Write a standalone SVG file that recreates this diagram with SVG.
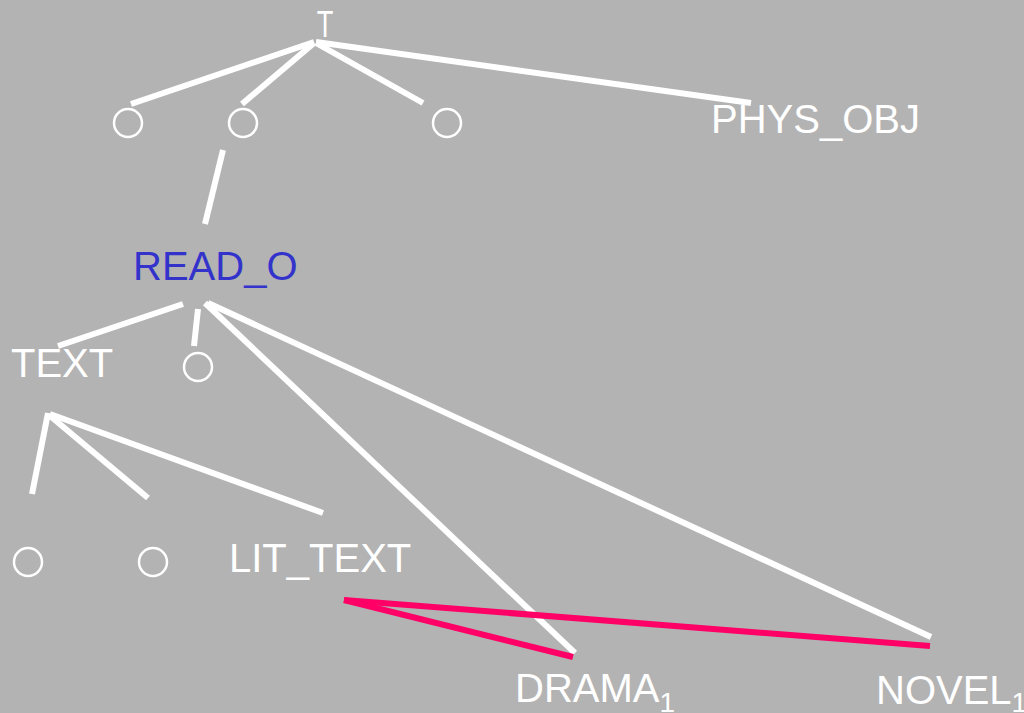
<svg xmlns="http://www.w3.org/2000/svg" width="1024" height="713" viewBox="0 0 1024 713">
<style>
.e{stroke:#ffffff;stroke-width:6;fill:none}
.p{stroke:#ff0066;stroke-width:6;fill:none}
.c{stroke:#ffffff;stroke-width:2.5;fill:none}
.t{font-family:"Liberation Sans",Arial,sans-serif;font-size:40px;fill:#ffffff}
.b{fill:#3333cc}
.s{font-size:28px}
</style>
<rect width="1024" height="713" fill="#b3b3b3"/>
<g id="connectors">
<line class="e" x1="314" y1="42" x2="131" y2="104"/>
<line class="e" x1="314" y1="43" x2="242" y2="104"/>
<line class="e" x1="316" y1="43" x2="423" y2="103"/>
<line class="e" x1="316" y1="42" x2="751" y2="103"/>
<line class="e" x1="223" y1="150" x2="205" y2="224"/>
<line class="e" x1="183" y1="304" x2="58" y2="346"/>
<line class="e" x1="198" y1="309" x2="194" y2="346"/>
<line class="e" x1="205" y1="303" x2="575" y2="653"/>
<line class="e" x1="208" y1="303" x2="931" y2="637"/>
<line class="e" x1="48" y1="413" x2="32" y2="494"/>
<line class="e" x1="49" y1="415" x2="148" y2="498"/>
<line class="e" x1="50" y1="414" x2="323" y2="513"/>
<line class="p" x1="344" y1="600" x2="573" y2="657"/>
<line class="p" x1="344" y1="600" x2="930" y2="646"/>
</g>
<g id="T"><text class="t" transform="translate(325,37) scale(0.68,0.93)" text-anchor="middle">T</text></g>
<g id="c1"><circle class="c" cx="128" cy="123" r="14"/></g>
<g id="c2"><circle class="c" cx="243" cy="123" r="14"/></g>
<g id="c3"><circle class="c" cx="447" cy="123" r="14"/></g>
<g id="PHYS_OBJ"><text class="t" x="711" y="133">PHYS_OBJ</text></g>
<g id="READ_O"><text class="t b" x="133" y="280">READ_O</text></g>
<g id="TEXT"><text class="t" x="11" y="377">TEXT</text></g>
<g id="c4"><circle class="c" cx="198" cy="367" r="14"/></g>
<g id="c5"><circle class="c" cx="28" cy="562" r="14"/></g>
<g id="c6"><circle class="c" cx="153" cy="562" r="14"/></g>
<g id="LIT_TEXT"><text class="t" x="229" y="572">LIT_TEXT</text></g>
<g id="DRAMA1"><text class="t" x="515" y="702">DRAMA<tspan class="s" dy="10">1</tspan></text></g>
<g id="NOVEL1"><text class="t" x="876" y="704">NOVEL<tspan class="s" dy="8">1</tspan></text></g>
</svg>
